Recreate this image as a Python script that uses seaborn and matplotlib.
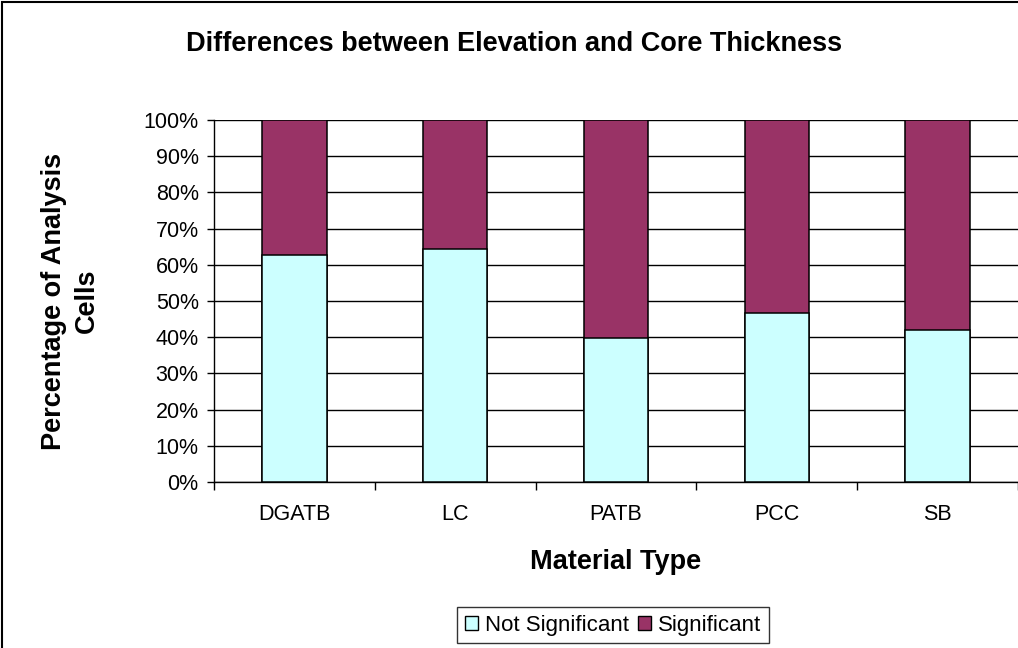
import numpy as np
import pandas as pd
import matplotlib
matplotlib.use("Agg")
import matplotlib.pyplot as plt
import seaborn as sns
from matplotlib.patches import Rectangle, Patch

# Données
materiaux = ["DGATB", "LC", "PATB", "PCC", "SB"]
non_significatif = [62.8, 64.3, 39.9, 46.6, 41.9]
significatif = [100 - v for v in non_significatif]

COULEUR_NS = "#CCFFFF"
COULEUR_S = "#993366"

sns.set_theme(style="white")
plt.rcParams["font.family"] = ["Liberation Sans", "DejaVu Sans"]
plt.rcParams["text.color"] = "black"
plt.rcParams["axes.labelcolor"] = "black"
plt.rcParams["xtick.color"] = "black"
plt.rcParams["ytick.color"] = "black"

df = pd.DataFrame({
    "Materiau": materiaux,
    "Non significatif": non_significatif,
    "Significatif": significatif,
})
df["Total"] = df["Non significatif"] + df["Significatif"]

fig = plt.figure(figsize=(10.18, 6.48), dpi=100)
ax = fig.add_axes([214 / 1018, 1 - 482 / 648, 1 - 214 / 1018, (482 - 120) / 648])

# Barres empilées : total en violet, puis la partie non significative par-dessus
sns.barplot(data=df, x="Materiau", y="Total", color=COULEUR_S, width=0.4,
            edgecolor="black", linewidth=1.1, saturation=1, ax=ax, zorder=3)
sns.barplot(data=df, x="Materiau", y="Non significatif", color=COULEUR_NS, width=0.4,
            edgecolor="black", linewidth=1.1, saturation=1, ax=ax, zorder=4)

ax.set_xlim(-0.5, len(materiaux) - 0.5)
ax.set_ylim(0, 100)
ax.set_yticks(np.arange(0, 101, 10))
ax.set_yticklabels([f"{v}%" for v in range(0, 101, 10)], fontsize=15.5)
ax.set_xticks(range(len(materiaux)))
ax.set_xticklabels(materiaux, fontsize=15.5)
ax.tick_params(axis="x", length=0, pad=16)
ax.tick_params(axis="y", length=5, width=1, left=True, pad=6)

# Petites graduations entre les catégories
ax.set_xticks(np.arange(-0.5, len(materiaux), 1), minor=True)
ax.tick_params(axis="x", which="minor", length=6, width=1, bottom=True)

ax.yaxis.grid(True, color="black", linewidth=1, zorder=0)
ax.set_axisbelow(True)
for s in ["top", "right"]:
    ax.spines[s].set_visible(False)
for s in ["left", "bottom"]:
    ax.spines[s].set_color("black")
    ax.spines[s].set_linewidth(1)

ax.set_xlabel("Material Type", fontsize=19.5, fontweight="bold")
ax.xaxis.set_label_coords(0.5, -(562 - 482) / 362)
ax.xaxis.label.set_va("center")
ax.set_ylabel("Percentage of Analysis\nCells", fontsize=19.5, fontweight="bold",
              linespacing=1.35)
ax.yaxis.set_label_coords(-(214 - 100) / 804, 0.5)

fig.text(514 / 1018, 1 - 44 / 648, "Differences between Elevation and Core Thickness",
         ha="center", va="center", fontsize=19.5, fontweight="bold")

handles = [Patch(facecolor=COULEUR_NS, edgecolor="black", label="Not Significant"),
           Patch(facecolor=COULEUR_S, edgecolor="black", label="Significant")]
leg = fig.legend(handles=handles, loc="center", bbox_to_anchor=(613 / 1018, 1 - 625 / 648),
                 ncol=2, fontsize=16, frameon=True, fancybox=False,
                 handlelength=0.6, handleheight=0.6, handletextpad=0.3,
                 columnspacing=0.4, borderpad=0.35, borderaxespad=0)
leg.get_frame().set_edgecolor("black")
leg.get_frame().set_linewidth(1)

# Cadre extérieur du graphique
fig.patches.append(Rectangle((2 / 1018, -0.01), 1.1, 1 - 2 / 648 + 0.01,
                             transform=fig.transFigure, fill=False,
                             edgecolor="black", linewidth=1.5))

fig.savefig("out.png", dpi=100)
